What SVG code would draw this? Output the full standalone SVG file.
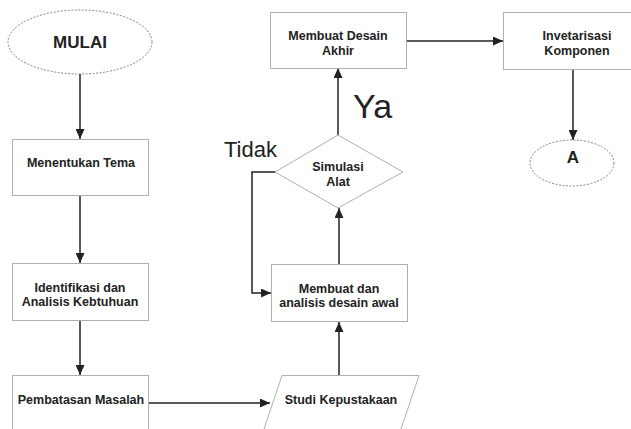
<svg xmlns="http://www.w3.org/2000/svg" width="631" height="429" viewBox="0 0 631 429">
<defs>
<marker id="ah" viewBox="0 0 10 10" refX="10" refY="5" markerWidth="10" markerHeight="9" markerUnits="userSpaceOnUse" orient="auto" preserveAspectRatio="none">
<path d="M0,0 L10,5 L0,10 Z" fill="#222"/>
</marker>
<style>
.box{fill:#fff;stroke:#b0b0b0;stroke-width:1}
.term{fill:#fff;stroke:#666;stroke-width:0.8;stroke-dasharray:2,1.5}
.t{font-family:"Liberation Sans",Arial,sans-serif;font-weight:bold;font-size:12.5px;fill:#222;text-anchor:middle}
.c{fill:none;stroke:#222;stroke-width:1.5}
.lbl{font-family:"Liberation Sans",Arial,sans-serif;fill:#222}
</style>
</defs>
<rect width="631" height="429" fill="#fff"/>
<g id="connectors">
<line class="c" x1="80" y1="74" x2="80" y2="139" marker-end="url(#ah)"/>
<line class="c" x1="80" y1="195" x2="80" y2="263" marker-end="url(#ah)"/>
<line class="c" x1="80" y1="320" x2="80" y2="375" marker-end="url(#ah)"/>
<line class="c" x1="148" y1="403" x2="270" y2="403" marker-end="url(#ah)"/>
<line class="c" x1="339" y1="375" x2="339" y2="322" marker-end="url(#ah)"/>
<line class="c" x1="339" y1="264" x2="339" y2="208" marker-end="url(#ah)"/>
<polyline class="c" points="275,172 252,172 252,293 271,293" marker-end="url(#ah)"/>
<line class="c" x1="338" y1="135" x2="338" y2="68" marker-end="url(#ah)"/>
<line class="c" x1="406" y1="41" x2="503" y2="41" marker-end="url(#ah)"/>
<line class="c" x1="573" y1="69" x2="573" y2="140" marker-end="url(#ah)"/>
</g>
<g id="mulai">
<ellipse class="term" cx="80" cy="42" rx="72" ry="32"/>
<text class="t" x="80" y="48" style="font-size:17px">MULAI</text>
</g>
<g id="menentukan">
<rect class="box" x="12.5" y="139.5" width="136" height="56"/>
<text class="t" x="81" y="167">Menentukan Tema</text>
</g>
<g id="identifikasi">
<rect class="box" x="12.5" y="263.5" width="136" height="57"/>
<text class="t" x="80" y="292">Identifikasi dan</text>
<text class="t" x="80" y="306">Analisis Kebtuhuan</text>
</g>
<g id="pembatasan">
<rect class="box" x="12.5" y="375.5" width="136" height="60"/>
<text class="t" x="81" y="404">Pembatasan Masalah</text>
</g>
<g id="studi">
<polygon class="box" points="282,375.5 419,375.5 399,435 262,435"/>
<text class="t" x="341" y="404">Studi Kepustakaan</text>
</g>
<g id="membuat-awal">
<rect class="box" x="271.5" y="264.5" width="136" height="57"/>
<text class="t" x="339" y="293">Membuat dan</text>
<text class="t" x="339" y="307">analisis desain awal</text>
</g>
<g id="simulasi">
<polygon class="box" points="338,135 403,172 338,208 275,172"/>
<text class="t" x="338" y="171">Simulasi</text>
<text class="t" x="338" y="186">Alat</text>
</g>
<g id="desain-akhir">
<rect class="box" x="270.5" y="12.5" width="136" height="56"/>
<text class="t" x="338" y="40">Membuat Desain</text>
<text class="t" x="338" y="55">Akhir</text>
</g>
<g id="invetarisasi">
<rect class="box" x="503.5" y="12.5" width="128" height="57"/>
<text class="t" x="577" y="40">Invetarisasi</text>
<text class="t" x="577" y="55">Komponen</text>
</g>
<g id="a">
<ellipse class="term" cx="572" cy="163" rx="42" ry="23"/>
<text class="t" x="573" y="163" style="font-size:17px">A</text>
</g>
<text class="lbl" x="353" y="118" font-size="34">Ya</text>
<text class="lbl" x="224" y="157" font-size="22">Tidak</text>
</svg>
